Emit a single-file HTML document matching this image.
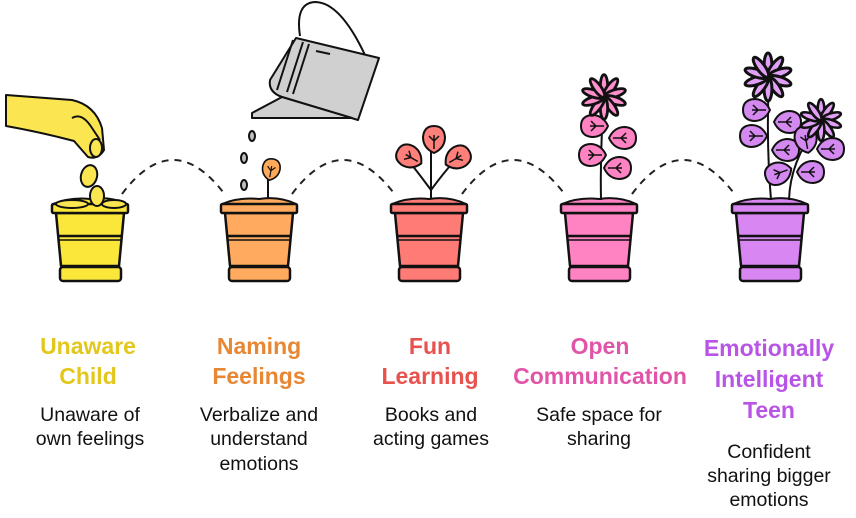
<!DOCTYPE html>
<html><head><meta charset="utf-8"><style>
body{margin:0;background:#fff;}
svg{display:block}
.t{font-family:"Liberation Sans",sans-serif;font-weight:bold;font-size:23px;text-anchor:middle}
.d{font-family:"Liberation Sans",sans-serif;font-size:19.5px;fill:#111;text-anchor:middle}
</style></head><body>
<svg width="856" height="518" viewBox="0 0 856 518" xmlns="http://www.w3.org/2000/svg">
<defs>
<g id="pot">
  <path d="M-37,204 Q-20,197 0,199 Q20,196 37,204 Z" stroke="#111" stroke-width="2"/>
  <polygon points="-34,213 34,213 29,266 -29,266" stroke="#111" stroke-width="2.5" stroke-linejoin="round"/>
  <rect x="-38" y="204" width="76" height="9" rx="1.5" stroke="#111" stroke-width="2.5"/>
  <line x1="-32" y1="236" x2="32" y2="236" stroke="#111" stroke-width="2.5"/>
  <line x1="-32" y1="240" x2="32" y2="240" stroke="#111" stroke-width="1.5"/>
  <rect x="-30" y="267" width="61" height="14" rx="3" stroke="#111" stroke-width="2.5"/>
</g>
<g id="leaf">
  <path d="M-13,0 Q-8,-11 3,-11 Q14,-10 14,0 Q14,10 3,11 Q-8,11 -13,0 Z" stroke="#111" stroke-width="2"/>
  <path d="M-9,0 L5,0 M-1,0 L4,-5 M-1,0 L4,5" stroke="#111" stroke-width="1.5" fill="none"/>
</g>
<g id="flw">
<ellipse cx="0" cy="-8" rx="2.6" ry="8"/><ellipse cx="0" cy="-8" rx="2.6" ry="8" transform="rotate(36)"/><ellipse cx="0" cy="-8" rx="2.6" ry="8" transform="rotate(72)"/><ellipse cx="0" cy="-8" rx="2.6" ry="8" transform="rotate(108)"/><ellipse cx="0" cy="-8" rx="2.6" ry="8" transform="rotate(144)"/><ellipse cx="0" cy="-8" rx="2.6" ry="8" transform="rotate(180)"/><ellipse cx="0" cy="-8" rx="2.6" ry="8" transform="rotate(216)"/><ellipse cx="0" cy="-8" rx="2.6" ry="8" transform="rotate(252)"/><ellipse cx="0" cy="-8" rx="2.6" ry="8" transform="rotate(288)"/><ellipse cx="0" cy="-8" rx="2.6" ry="8" transform="rotate(324)"/>
</g>
</defs>
<g fill="none" stroke="#222" stroke-width="2" stroke-dasharray="7,6">
<path d="M122,194 Q172,127 223,192"/>
<path d="M292,194 Q342,127 393,192"/>
<path d="M462,194 Q512,127 563,192"/>
<path d="M632,194 Q682,127 733,192"/>
</g>
<use href="#pot" x="90" fill="#FBE73A"/>
<use href="#pot" x="259" fill="#FFAA5E"/>
<use href="#pot" x="429" fill="#FF7B76"/>
<use href="#pot" x="599" fill="#FF82C2"/>
<use href="#pot" x="770" fill="#D786F2"/>
<!-- hand + seeds -->
<g stroke="#111" stroke-width="2" fill="#FBE550" stroke-linejoin="round">
<path d="M6,95 L72,100 Q95,105 102,128 L104,150 Q98,160 88,157 L74,141 Q40,132 6,126 Z"/>
<path d="M72,118 Q82,112 92,128 L100,140" fill="none"/>
<ellipse cx="96" cy="148" rx="6" ry="9"/>
<ellipse cx="89" cy="176" rx="8" ry="11" transform="rotate(15 89 176)"/>
<ellipse cx="97" cy="196" rx="7" ry="10"/>
<ellipse cx="72" cy="204" rx="16" ry="4"/><ellipse cx="114" cy="204" rx="12" ry="4"/>
</g>
<!-- watering can -->
<g stroke="#111" stroke-width="2" fill="#D0D0D0" stroke-linejoin="round">
<path d="M300,36 Q295,3 315,2 Q340,2 365,55" fill="none"/>
<path d="M296,38 L379,58 L358,120 L282,97 Q268,92 270,80 Z"/>
<path d="M282,97 L252,113 L252,118 L352,118 Z"/>
<path d="M293,40 L277,90 M303,42 L287,92 M309,44 L293,94" fill="none"/>
<path d="M316,51 L330,54" fill="none"/>
<ellipse cx="252" cy="136" rx="3" ry="5" fill="#BEBEBE"/>
<ellipse cx="244" cy="158" rx="3" ry="5" fill="#BEBEBE"/>
<ellipse cx="244" cy="185" rx="3" ry="5" fill="#BEBEBE"/>
</g>
<!-- orange sprout -->
<g stroke="#111" stroke-width="2" fill="#FFA95A">
<line x1="268" y1="198" x2="268" y2="178"/>
<use href="#leaf" transform="translate(271,170) rotate(-80) scale(0.8)"/>
</g>
<!-- red plant -->
<g stroke="#111" stroke-width="2" fill="#FF7F7A">
<path d="M431,198 L431,150 M431,190 Q420,175 408,160 M431,190 Q442,175 455,160" fill="none"/>
<use href="#leaf" transform="translate(434,140) rotate(-90)"/>
<use href="#leaf" transform="translate(410,157) rotate(-150)"/>
<use href="#leaf" transform="translate(457,158) rotate(-30)"/>
</g>
<!-- pink plant -->
<g stroke="#111" stroke-width="2" fill="#FF82C2">
<path d="M601,200 Q600,150 604,96" fill="none"/>
<use href="#leaf" transform="translate(595,126) rotate(180)"/>
<use href="#leaf" transform="translate(622,138)"/>
<use href="#leaf" transform="translate(593,155) rotate(180)"/>
<use href="#leaf" transform="translate(617,168)"/>
<use href="#flw" transform="translate(604,97) scale(1.4)" fill="#FF90CC"/>
</g>
<!-- purple plant -->
<g stroke="#111" stroke-width="2" fill="#D389F0">
<path d="M771,200 Q766,140 769,78 M789,200 Q790,160 820,122" fill="none"/>
<use href="#leaf" transform="translate(757,110) rotate(180)"/>
<use href="#leaf" transform="translate(787,122)"/>
<use href="#leaf" transform="translate(754,136) rotate(180)"/>
<use href="#leaf" transform="translate(785,150)"/>
<use href="#leaf" transform="translate(779,173) rotate(160)"/>
<use href="#leaf" transform="translate(806,140) rotate(-100)"/>
<use href="#leaf" transform="translate(830,149)"/>
<use href="#leaf" transform="translate(810,172)"/>
<use href="#flw" transform="translate(768,77) scale(1.5)" fill="#E0A0F5"/>
<use href="#flw" transform="translate(821,120) scale(1.3)" fill="#E0A0F5"/>
</g>
<!-- text -->
<text class="t" fill="#E3C71C" x="88" y="354">Unaware</text>
<text class="t" fill="#E3C71C" x="88" y="384">Child</text>
<text class="d" x="90" y="421">Unaware of</text>
<text class="d" x="90" y="445">own feelings</text>
<text class="t" fill="#E88733" x="259" y="354">Naming</text>
<text class="t" fill="#E88733" x="259" y="384">Feelings</text>
<text class="d" x="259" y="421">Verbalize and</text>
<text class="d" x="259" y="445">understand</text>
<text class="d" x="259" y="470">emotions</text>
<text class="t" fill="#E8524E" x="430" y="354">Fun</text>
<text class="t" fill="#E8524E" x="430" y="384">Learning</text>
<text class="d" x="431" y="421">Books and</text>
<text class="d" x="431" y="445">acting games</text>
<text class="t" fill="#E055A8" x="600" y="354">Open</text>
<text class="t" fill="#E055A8" x="600" y="384">Communication</text>
<text class="d" x="599" y="421">Safe space for</text>
<text class="d" x="599" y="445">sharing</text>
<text class="t" fill="#B955E6" x="769" y="356">Emotionally</text>
<text class="t" fill="#B955E6" x="769" y="387">Intelligent</text>
<text class="t" fill="#B955E6" x="769" y="418">Teen</text>
<text class="d" x="769" y="458">Confident</text>
<text class="d" x="769" y="482">sharing bigger</text>
<text class="d" x="769" y="506">emotions</text>
</svg>
</body></html>
